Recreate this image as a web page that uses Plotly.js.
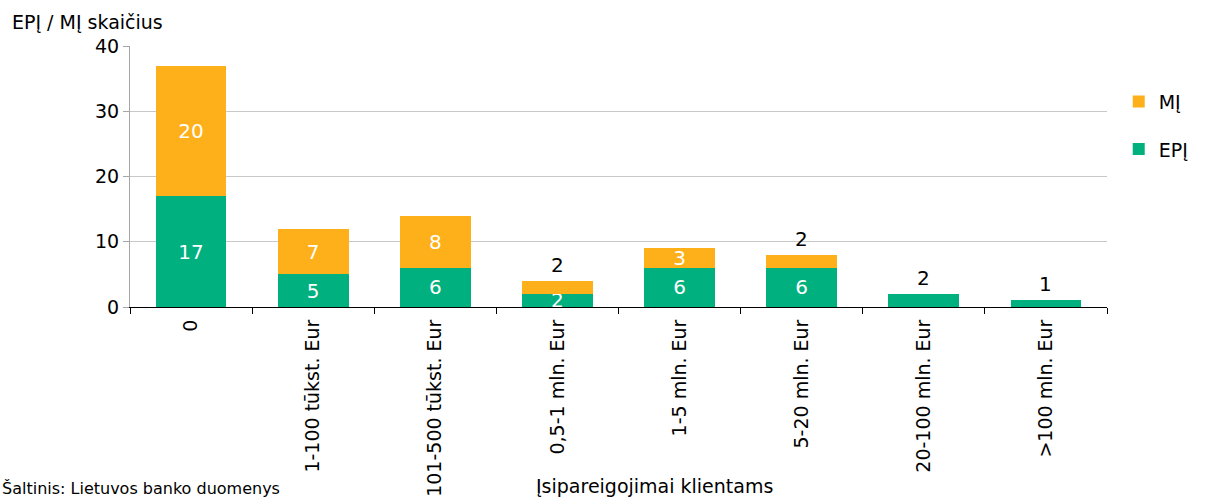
<!DOCTYPE html>
<html>
<head>
<meta charset="utf-8">
<script src="https://cdn.plot.ly/plotly-3.0.1.min.js"></script>
<style>html,body{margin:0;padding:0;background:#fff;}#chart{width:1211px;height:501px;}</style>
</head>
<body>
<div id="chart"></div>
<script>
const categories = ["0", "1-100 tūkst. Eur", "101-500 tūkst. Eur", "0,5-1 mln. Eur", "1-5 mln. Eur", "5-20 mln. Eur", "20-100 mln. Eur", ">100 mln. Eur"];
const epiValues = [17, 5, 6, 2, 6, 6, 2, 1];
const miValues = [20, 7, 8, 2, 3, 2, null, null];
const seriesNames = ["EPĮ", "MĮ"];
const yTitle = "EPĮ / MĮ skaičius";
const xTitle = "Įsipareigojimai klientams";
const sourceText = "Šaltinis: Lietuvos banko duomenys";

const FONT = "DejaVu Sans, Verdana, sans-serif";
const GREEN = "#00B07E";
const ORANGE = "#FDB01A";

// small top-of-stack segments get their label above the bar
function isOutside(i, series) {
  const mi = miValues[i];
  if (series === "mi") return mi != null && mi <= 2;
  return (mi == null) && epiValues[i] <= 2;
}
const epiText = epiValues.map((v, i) => isOutside(i, "epi") ? "" : String(v));
const miText = miValues.map((v, i) => (v == null || isOutside(i, "mi")) ? "" : String(v));

const annotations = [];
categories.forEach((c, i) => {
  const mi = miValues[i];
  const total = epiValues[i] + (mi || 0);
  let val = null;
  if (isOutside(i, "mi")) val = mi;
  else if (isOutside(i, "epi")) val = epiValues[i];
  if (val != null) {
    annotations.push({x: c, y: total, xref: "x", yref: "y", text: String(val), showarrow: false,
      yanchor: "bottom", yshift: 2, font: {family: FONT, size: 20, color: "#000"}});
  }
});
annotations.push({xref: "paper", yref: "paper", x: -0.123, y: 1, yshift: 24, xanchor: "left", yanchor: "middle",
  text: yTitle, showarrow: false, font: {family: FONT, size: 19, color: "#000"}});
annotations.push({xref: "paper", yref: "paper", x: 0.537, y: -0.685, xanchor: "center", yanchor: "middle",
  text: xTitle, showarrow: false, font: {family: FONT, size: 19, color: "#000"}});
annotations.push({xref: "paper", yref: "paper", x: -0.133, y: -0.695, xanchor: "left", yanchor: "middle",
  text: sourceText, showarrow: false, font: {family: FONT, size: 16, color: "#000"}});

const traces = [
  {type: "bar", name: seriesNames[0], x: categories, y: epiValues, marker: {color: GREEN},
   text: epiText, textposition: "inside", insidetextanchor: "middle", textangle: 0, constraintext: "none",
   insidetextfont: {family: FONT, size: 20, color: "#fff"}, legendgroup: "a", legendrank: 2, hoverinfo: "y"},
  {type: "bar", name: seriesNames[1], x: categories, y: miValues, marker: {color: ORANGE},
   text: miText, textposition: "inside", insidetextanchor: "middle", textangle: 0, constraintext: "none",
   insidetextfont: {family: FONT, size: 20, color: "#fff"}, legendgroup: "b", legendrank: 1, hoverinfo: "y"}
];

const layout = {
  width: 1211, height: 501,
  margin: {l: 130, r: 104, t: 46, b: 194},
  barmode: "stack",
  bargap: 0.42,
  paper_bgcolor: "#fff", plot_bgcolor: "#fff",
  font: {family: FONT, size: 19, color: "#000"},
  showlegend: true,
  legend: {x: 1.012, y: 0.86, xanchor: "left", yanchor: "top", traceorder: "grouped",
    tracegroupgap: 20, font: {family: FONT, size: 19, color: "#000"}, itemwidth: 30, bgcolor: "rgba(0,0,0,0)"},
  xaxis: {type: "category", tickangle: -90, ticks: "outside", tickson: "boundaries", ticklen: 6,
    tickcolor: "#000", showline: true, linecolor: "#000", linewidth: 1, showgrid: false, ticklabelstandoff: 4,
    tickfont: {family: FONT, size: 19, color: "#000"}, fixedrange: true},
  yaxis: {range: [0, 40], dtick: 10, ticks: "outside", ticklen: 6, tickcolor: "#A6A6A6",
    showline: true, linecolor: "#A6A6A6", linewidth: 1, showgrid: true, gridcolor: "#C8C8C8", gridwidth: 1,
    zeroline: false, tickfont: {family: FONT, size: 19, color: "#000"}, fixedrange: true},
  annotations: annotations
};

Plotly.newPlot("chart", traces, layout, {displayModeBar: false, staticPlot: true});
</script>
</body>
</html>
